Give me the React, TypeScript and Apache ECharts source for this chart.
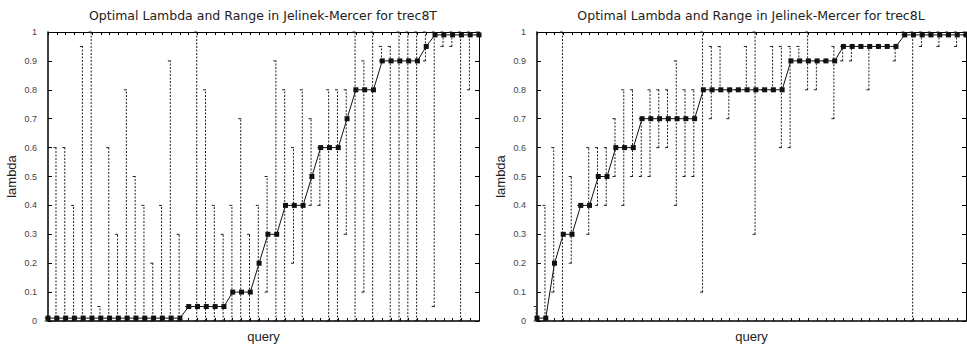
import React, { useEffect, useRef } from "react";
import * as echarts from "echarts";

const QUERIES = [
  1, 2, 3, 4, 5, 6, 7, 8, 9, 10, 11, 12, 13, 14, 15, 16, 17, 18, 19, 20, 21, 22, 23, 24, 25,
  26, 27, 28, 29, 30, 31, 32, 33, 34, 35, 36, 37, 38, 39, 40, 41, 42, 43, 44, 45, 46, 47, 48, 49, 50,
];

// trec8T
const T_LAMBDA = [
  0.01, 0.01, 0.01, 0.01, 0.01, 0.01, 0.01, 0.01, 0.01, 0.01, 0.01, 0.01, 0.01, 0.01, 0.01, 0.01,
  0.05, 0.05, 0.05, 0.05, 0.05, 0.1, 0.1, 0.1, 0.2, 0.3, 0.3, 0.4, 0.4, 0.4, 0.5, 0.6, 0.6, 0.6,
  0.7, 0.8, 0.8, 0.8, 0.9, 0.9, 0.9, 0.9, 0.9, 0.95, 0.99, 0.99, 0.99, 0.99, 0.99, 0.99,
];
const T_LOW = [
  0, 0, 0, 0, 0, 0, 0, 0, 0, 0, 0, 0, 0, 0, 0, 0, 0.05, 0, 0, 0, 0, 0, 0, 0, 0,
  0.1, 0, 0, 0.2, 0, 0.4, 0.4, 0, 0, 0.3, 0, 0.1, 0, 0.9, 0, 0, 0, 0, 0.9, 0.05, 0.95, 0.95, 0, 0.8, 0.99,
];
const T_HIGH = [
  0.01, 0.6, 0.6, 0.4, 0.95, 1, 0.05, 0.6, 0.3, 0.8, 0.5, 0.4, 0.2, 0.4, 0.9, 0.3, 0.05, 1, 0.8, 0.4, 0.3, 0.4, 0.7, 0.3, 0.4,
  0.5, 0.9, 0.8, 0.6, 0.8, 0.7, 0.6, 0.8, 0.8, 0.8, 1, 0.9, 1, 0.95, 0.95, 1, 1, 1, 1, 1, 1, 1, 1, 1, 1,
];

// trec8L
const L_LAMBDA = [
  0.01, 0.01, 0.2, 0.3, 0.3, 0.4, 0.4, 0.5, 0.5, 0.6, 0.6, 0.6, 0.7, 0.7, 0.7, 0.7, 0.7, 0.7, 0.7,
  0.8, 0.8, 0.8, 0.8, 0.8, 0.8, 0.8, 0.8, 0.8, 0.8, 0.9, 0.9, 0.9, 0.9, 0.9, 0.9,
  0.95, 0.95, 0.95, 0.95, 0.95, 0.95, 0.95, 0.99, 0.99, 0.99, 0.99, 0.99, 0.99, 0.99, 0.99,
];
const L_LOW = [
  0, 0, 0.1, 0, 0.2, 0.4, 0.3, 0.4, 0.4, 0.5, 0.4, 0.5, 0.5, 0.5, 0.6, 0.6, 0.4, 0.5, 0.5,
  0.1, 0.7, 0.8, 0.7, 0.8, 0.8, 0.3, 0.8, 0.8, 0.6, 0.6, 0.9, 0.8, 0.8, 0.9, 0.7,
  0.9, 0.9, 0.95, 0.8, 0.95, 0.95, 0.9, 0.99, 0, 0.95, 0.99, 0.95, 0.99, 0.95, 0.99,
];
const L_HIGH = [
  0.05, 0.4, 0.6, 1, 0.5, 0.4, 0.6, 0.6, 0.6, 0.7, 0.8, 0.8, 0.7, 0.8, 0.8, 0.8, 0.9, 0.8, 0.8,
  1, 0.95, 0.95, 0.8, 0.8, 0.95, 1, 0.8, 0.95, 0.95, 0.95, 0.95, 1, 0.9, 0.9, 0.95,
  0.95, 0.95, 0.95, 0.95, 0.95, 0.95, 0.95, 1, 1, 1, 1, 1, 1, 1, 1,
];

const Y_TICK_LABELS = ["0", "0.1", "0.2", "0.3", "0.4", "0.5", "0.6", "0.7", "0.8", "0.9", "1"];
const TITLES = [
  "Optimal Lambda and Range in Jelinek-Mercer for trec8T",
  "Optimal Lambda and Range in Jelinek-Mercer for trec8L",
];
const X_NAME = "query";
const Y_NAME = "lambda";

const FONT = '"Liberation Sans", Arial, Helvetica, sans-serif';
const TITLE_FONT = '"DejaVu Sans", "Liberation Sans", sans-serif';

function renderRange(params: any, api: any) {
  const x = api.value(0);
  const lo = api.value(1);
  const hi = api.value(2);
  const pLo = api.coord([x, lo]);
  const pHi = api.coord([x, hi]);
  const lx = pLo[0] - 0.8;
  const dash = { stroke: "#222", lineWidth: 1, lineDash: [2, 1.5], fill: null };
  const solid = { stroke: "#222", lineWidth: 1, fill: null };
  return {
    type: "group",
    children: [
      { type: "line", shape: { x1: lx, y1: pLo[1], x2: lx, y2: pHi[1] }, style: dash },
      { type: "line", shape: { x1: lx - 2.5, y1: pHi[1], x2: lx + 0.5, y2: pHi[1] }, style: solid },
      { type: "line", shape: { x1: lx - 2.5, y1: pLo[1], x2: lx + 0.5, y2: pLo[1] }, style: solid },
    ],
  };
}

export default function App() {
  const ref = useRef<HTMLDivElement>(null);
  useEffect(() => {
    if (!ref.current) return;
    const chart = echarts.init(ref.current, null, { renderer: "svg" });
    const grids = [
      { left: 48, right: 488, top: 32, bottom: 24 },
      { left: 537, right: 1, top: 32, bottom: 24 },
    ];
    const xAxis: any[] = [];
    const yAxis: any[] = [];
    grids.forEach((_, i) => {
      xAxis.push({
        gridIndex: i,
        type: "value",
        min: 1,
        max: 50,
        interval: 1,
        axisLine: { show: true, onZero: false, lineStyle: { color: "#000", width: 1.5 } },
        axisTick: { show: true, inside: true, length: 3, lineStyle: { color: "#000", width: 1 } },
        axisLabel: { show: false },
        splitLine: { show: false },
        name: X_NAME,
        nameLocation: "middle",
        nameGap: 9,
        nameTextStyle: { fontFamily: FONT, fontSize: 13, color: "#222" },
      });
      xAxis.push({
        gridIndex: i,
        type: "value",
        position: "top",
        min: 1,
        max: 50,
        interval: 1,
        axisLine: { show: true, onZero: false, lineStyle: { color: "#000", width: 1 } },
        axisTick: { show: true, inside: true, length: 3, lineStyle: { color: "#000", width: 1 } },
        axisLabel: { show: false },
        splitLine: { show: false },
      });
      yAxis.push({
        gridIndex: i,
        type: "value",
        min: 0,
        max: 1,
        interval: 0.1,
        axisLine: { show: true, onZero: false, lineStyle: { color: "#000", width: 1.5 } },
        axisTick: { show: true, inside: true, length: 4, lineStyle: { color: "#000", width: 1 } },
        axisLabel: {
          show: true,
          margin: 11,
          fontSize: 9,
          fontFamily: FONT,
          color: "#444",
          formatter: (v: number) => Y_TICK_LABELS[Math.round(v * 10)],
        },
        splitLine: { show: false },
        name: Y_NAME,
        nameLocation: "middle",
        nameRotate: 90,
        nameGap: 30,
        nameTextStyle: { fontFamily: FONT, fontSize: 13, color: "#222" },
      });
      yAxis.push({
        gridIndex: i,
        type: "value",
        position: "right",
        min: 0,
        max: 1,
        interval: 0.1,
        axisLine: { show: true, onZero: false, lineStyle: { color: "#000", width: 1 } },
        axisTick: { show: true, inside: true, length: 4, lineStyle: { color: "#000", width: 1 } },
        axisLabel: { show: false },
        splitLine: { show: false },
      });
    });

    const panels = [
      { lam: T_LAMBDA, lo: T_LOW, hi: T_HIGH },
      { lam: L_LAMBDA, lo: L_LOW, hi: L_HIGH },
    ];
    const series: any[] = [];
    panels.forEach((p, i) => {
      series.push({
        type: "custom",
        xAxisIndex: i * 2,
        yAxisIndex: i * 2,
        renderItem: renderRange,
        data: QUERIES.map((q, k) => [q, p.lo[k], p.hi[k]]),
        encode: { x: 0, y: [1, 2] },
        z: 2,
        silent: true,
        clip: false,
      });
      series.push({
        type: "line",
        xAxisIndex: i * 2,
        yAxisIndex: i * 2,
        data: QUERIES.map((q, k) => [q, p.lam[k]]),
        symbol: "rect",
        symbolSize: 5,
        showSymbol: true,
        itemStyle: { color: "#111" },
        lineStyle: { color: "#111", width: 1 },
        z: 3,
        silent: true,
      });
    });

    chart.setOption({
      animation: false,
      backgroundColor: "#fff",
      grid: grids,
      xAxis,
      yAxis,
      series,
      graphic: [
        {
          type: "text",
          x: 263,
          y: 15,
          style: {
            text: TITLES[0],
            font: `12.5px ${TITLE_FONT}`,
            fill: "#222",
            align: "center",
            verticalAlign: "middle",
            textAlign: "center",
            textVerticalAlign: "middle",
          },
        },
        {
          type: "text",
          x: 751,
          y: 15,
          style: {
            text: TITLES[1],
            font: `12.5px ${TITLE_FONT}`,
            fill: "#222",
            align: "center",
            verticalAlign: "middle",
            textAlign: "center",
            textVerticalAlign: "middle",
          },
        },
      ],
    });
    return () => chart.dispose();
  }, []);
  return (
    <div
      ref={ref}
      style={{ position: "absolute", left: 0, top: 0, width: 967, height: 348, background: "#fff" }}
    />
  );
}
